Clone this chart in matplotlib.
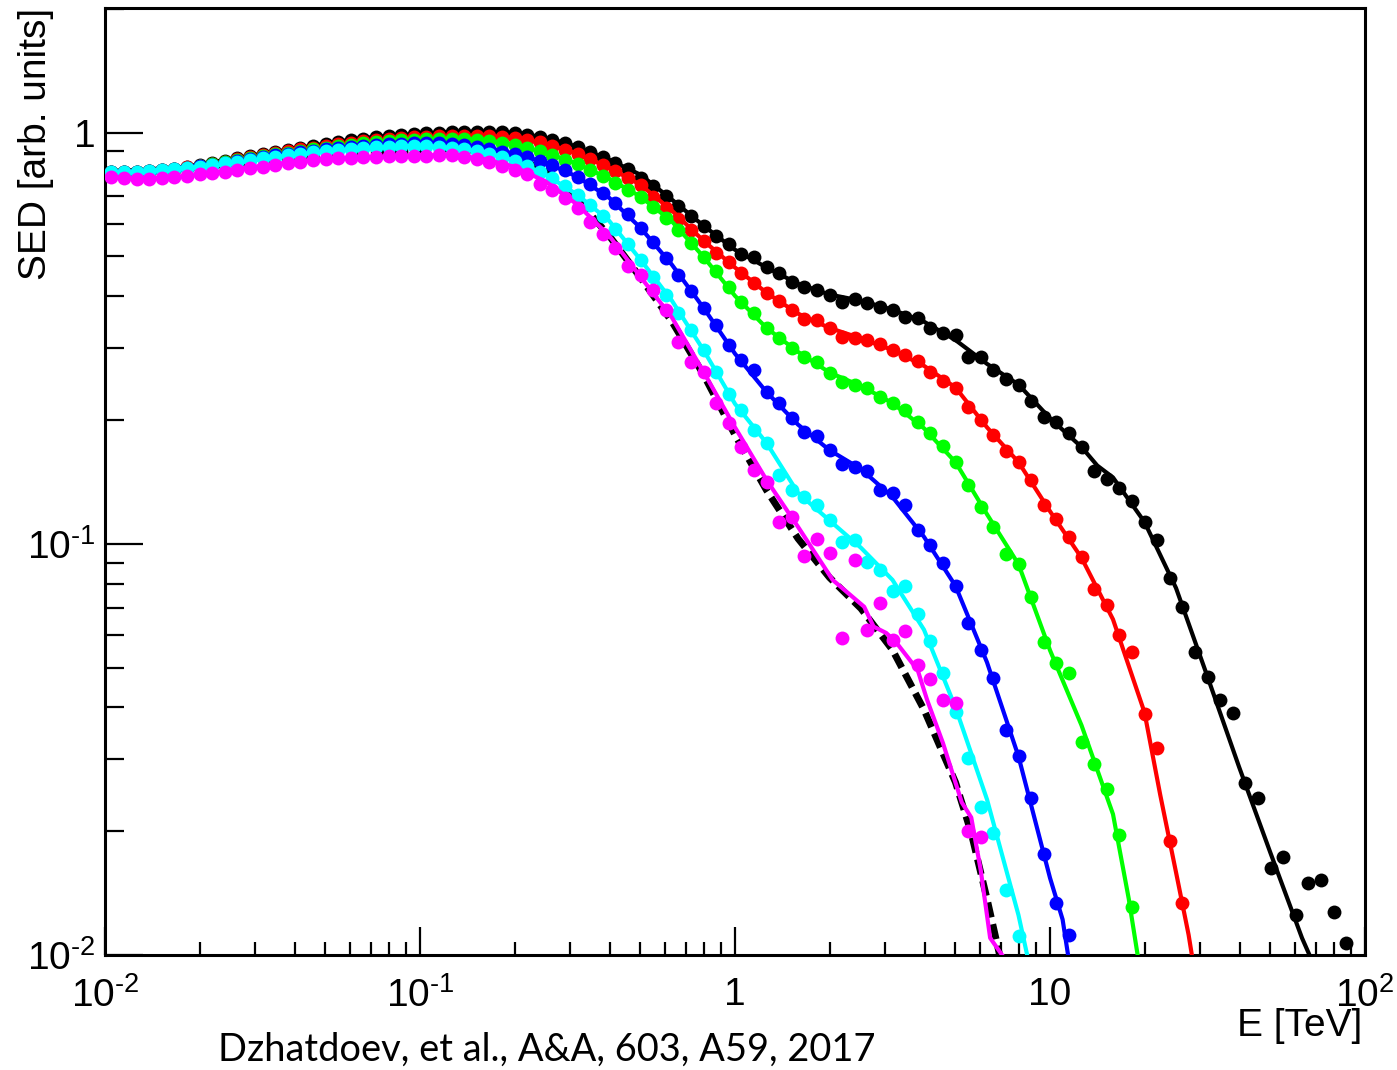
import numpy as np
import matplotlib
matplotlib.use("Agg")
import matplotlib.pyplot as plt
from matplotlib.ticker import NullFormatter, LogLocator

plt.rcParams["font.family"] = ["Liberation Sans", "DejaVu Sans"]
plt.rcParams["mathtext.fontset"] = "custom"
plt.rcParams["mathtext.rm"] = "Liberation Sans"
plt.rcParams["mathtext.it"] = "Liberation Sans:italic"
plt.rcParams["mathtext.bf"] = "Liberation Sans:bold"
plt.rcParams["lines.scale_dashes"] = False

# Monte Carlo energy bins: 25 per decade, bin centres in TeV
E_BINS = np.logspace(-1.98, 1.94, 99)

# Simulated SED points (arb. units), one value per energy bin
SED_BLACK = [0.803, 0.803, 0.803, 0.808, 0.813, 0.817, 0.826, 0.836, 0.845, 0.855,
             0.869, 0.879, 0.889, 0.899, 0.909, 0.919, 0.930, 0.940, 0.951, 0.961,
             0.967, 0.978, 0.983, 0.989, 0.994, 1.000, 1.000, 1.006, 1.006, 1.006,
             1.006, 1.006, 1.000, 0.989, 0.978, 0.961, 0.946, 0.924, 0.899, 0.874,
             0.845, 0.817, 0.777, 0.743, 0.703, 0.664, 0.628, 0.594, 0.561, 0.537,
             0.508, 0.499, 0.470, 0.456, 0.434, 0.422, 0.415, 0.404, 0.388, 0.393,
             0.386, 0.377, 0.371, 0.356, 0.354, 0.335, 0.326, 0.322, 0.285, 0.284,
             0.265, 0.251, 0.244, 0.222, 0.204, 0.198, 0.186, 0.172, 0.150, 0.144,
             0.137, 0.127, 0.113, 0.102, 0.0826, 0.0703, 0.0546, 0.0474, 0.0417, 0.0387,
             0.0262, 0.0241, 0.0163, 0.0173, 0.0125, 0.0150, 0.0152, 0.0127, 0.0107]

SED_RED = [0.803, 0.803, 0.803, 0.808, 0.813, 0.817, 0.826, 0.831, 0.840, 0.850,
           0.864, 0.874, 0.884, 0.894, 0.904, 0.914, 0.919, 0.930, 0.940, 0.946,
           0.956, 0.961, 0.967, 0.972, 0.978, 0.978, 0.983, 0.983, 0.983, 0.983,
           0.983, 0.978, 0.972, 0.961, 0.951, 0.930, 0.909, 0.889, 0.864, 0.836,
           0.808, 0.777, 0.747, 0.699, 0.657, 0.618, 0.581, 0.546, 0.511, 0.485,
           0.456, 0.432, 0.408, 0.390, 0.371, 0.353, 0.351, 0.335, 0.319, 0.317,
           0.314, 0.306, 0.296, 0.288, 0.279, 0.262, 0.249, 0.240, 0.215, 0.200,
           0.184, 0.168, 0.158, 0.143, 0.124, 0.115, 0.104, 0.0930, 0.0776, 0.0710,
           0.0601, 0.0546, 0.0385, 0.0318, 0.0189, 0.0134]

SED_GREEN = [0.803, 0.803, 0.803, 0.808, 0.813, 0.817, 0.822, 0.831, 0.840, 0.850,
             0.860, 0.869, 0.879, 0.889, 0.894, 0.904, 0.914, 0.919, 0.930, 0.935,
             0.946, 0.951, 0.956, 0.961, 0.961, 0.967, 0.967, 0.967, 0.967, 0.961,
             0.956, 0.946, 0.935, 0.919, 0.904, 0.884, 0.860, 0.840, 0.813, 0.786,
             0.756, 0.727, 0.699, 0.661, 0.621, 0.581, 0.540, 0.499, 0.461, 0.422,
             0.388, 0.365, 0.335, 0.317, 0.300, 0.285, 0.277, 0.261, 0.248, 0.244,
             0.240, 0.228, 0.220, 0.212, 0.198, 0.186, 0.173, 0.158, 0.139, 0.123,
             0.110, 0.0946, 0.0894, 0.0743, 0.0578, 0.0513, 0.0485, 0.0330, 0.0291, 0.0253,
             0.0196, 0.0131]

SED_BLUE = [0.803, 0.803, 0.803, 0.808, 0.813, 0.817, 0.822, 0.831, 0.836, 0.845,
            0.855, 0.864, 0.874, 0.884, 0.889, 0.899, 0.904, 0.914, 0.919, 0.924,
            0.930, 0.935, 0.940, 0.940, 0.946, 0.946, 0.946, 0.940, 0.935, 0.924,
            0.914, 0.899, 0.889, 0.874, 0.855, 0.836, 0.813, 0.781, 0.751, 0.714,
            0.676, 0.635, 0.587, 0.543, 0.496, 0.451, 0.412, 0.375, 0.341, 0.305,
            0.280, 0.265, 0.234, 0.220, 0.202, 0.187, 0.183, 0.169, 0.156, 0.154,
            0.150, 0.135, 0.133, 0.124, 0.108, 0.0994, 0.0898, 0.0790, 0.0642, 0.0551,
            0.0472, 0.0352, 0.0304, 0.0241, 0.0176, 0.0134, 0.0112]

SED_CYAN = [0.803, 0.803, 0.803, 0.808, 0.813, 0.817, 0.822, 0.826, 0.836, 0.845,
            0.850, 0.860, 0.869, 0.874, 0.884, 0.889, 0.899, 0.904, 0.909, 0.914,
            0.919, 0.924, 0.924, 0.930, 0.930, 0.930, 0.924, 0.919, 0.914, 0.904,
            0.889, 0.874, 0.855, 0.831, 0.803, 0.777, 0.743, 0.706, 0.668, 0.628,
            0.584, 0.537, 0.491, 0.446, 0.404, 0.365, 0.332, 0.296, 0.262, 0.232,
            0.212, 0.189, 0.176, 0.147, 0.135, 0.130, 0.124, 0.114, 0.101, 0.102,
            0.0903, 0.0862, 0.0768, 0.0790, 0.0675, 0.0581, 0.0485, 0.0390, 0.0301, 0.0229,
            0.0198, 0.0144, 0.0111]

SED_MAGENTA = [0.781, 0.777, 0.773, 0.773, 0.777, 0.781, 0.786, 0.795, 0.799, 0.803,
               0.813, 0.822, 0.826, 0.836, 0.845, 0.850, 0.860, 0.864, 0.869, 0.869,
               0.874, 0.874, 0.879, 0.879, 0.879, 0.879, 0.884, 0.884, 0.874, 0.864,
               0.850, 0.831, 0.813, 0.795, 0.751, 0.727, 0.695, 0.657, 0.607, 0.568,
               0.525, 0.475, 0.451, 0.415, 0.371, 0.310, 0.277, 0.262, 0.220, 0.197,
               0.172, 0.151, 0.141, 0.113, 0.116, 0.0936, 0.103, 0.0950, 0.0591, 0.0914,
               0.0618, 0.0718, 0.0584, 0.0615, 0.0508, 0.0469, 0.0416, 0.0410, 0.0200, 0.0194]

# Model curves: log10(E/TeV) knots and SED values
LOGE_BLACK = [-2.0, -1.9, -1.8, -1.7, -1.6, -1.5, -1.4, -1.3, -1.2, -1.1,
              -1.0, -0.9, -0.8, -0.7, -0.6, -0.5, -0.4, -0.3, -0.2, -0.1,
              0.0, 0.1, 0.2, 0.3, 0.4, 0.5, 0.6, 0.7, 0.8, 0.9,
              1.0, 1.1, 1.15, 1.2, 1.3, 1.4, 1.5, 1.6, 1.7, 1.8, 1.85]
LINE_BLACK = [0.803, 0.803, 0.817, 0.836, 0.864, 0.889, 0.914, 0.940, 0.967, 0.983,
              0.994, 1.006, 1.006, 1.000, 0.972, 0.924, 0.860, 0.790, 0.687, 0.594,
              0.519, 0.470, 0.429, 0.404, 0.390, 0.371, 0.347, 0.313, 0.274, 0.244,
              0.202, 0.172, 0.155, 0.145, 0.113, 0.0781, 0.0475, 0.0287, 0.0177, 0.0110, 0.0090]

LOGE_RED = [-2.0, -1.9, -1.8, -1.7, -1.6, -1.5, -1.4, -1.3, -1.2, -1.1,
            -1.0, -0.9, -0.8, -0.7, -0.6, -0.5, -0.4, -0.3, -0.2, -0.1,
            0.0, 0.1, 0.2, 0.3, 0.4, 0.5, 0.6, 0.7, 0.8, 0.9,
            1.0, 1.1, 1.2, 1.3, 1.35, 1.4, 1.44, 1.46]
LINE_RED = [0.803, 0.808, 0.817, 0.831, 0.855, 0.879, 0.899, 0.924, 0.946, 0.961,
            0.972, 0.983, 0.983, 0.972, 0.940, 0.889, 0.822, 0.747, 0.646, 0.546,
            0.470, 0.408, 0.363, 0.335, 0.316, 0.296, 0.271, 0.240, 0.192, 0.158,
            0.120, 0.0925, 0.0655, 0.0389, 0.0245, 0.0159, 0.0112, 0.0090]

LOGE_GREEN = [-2.0, -1.9, -1.8, -1.7, -1.6, -1.5, -1.4, -1.3, -1.2, -1.1,
              -1.0, -0.9, -0.8, -0.7, -0.6, -0.5, -0.4, -0.3, -0.2, -0.1,
              0.0, 0.1, 0.2, 0.3, 0.4, 0.5, 0.6, 0.7, 0.8, 0.9,
              1.0, 1.1, 1.2, 1.25, 1.28]
LINE_GREEN = [0.803, 0.803, 0.817, 0.831, 0.850, 0.874, 0.894, 0.914, 0.935, 0.951,
              0.961, 0.967, 0.961, 0.935, 0.894, 0.840, 0.773, 0.699, 0.608, 0.499,
              0.401, 0.335, 0.293, 0.261, 0.242, 0.220, 0.191, 0.158, 0.118, 0.0892,
              0.0551, 0.0362, 0.0220, 0.0137, 0.0098]

LOGE_BLUE = [-2.0, -1.9, -1.8, -1.7, -1.6, -1.5, -1.4, -1.3, -1.2, -1.1,
             -1.0, -0.9, -0.8, -0.7, -0.6, -0.5, -0.4, -0.3, -0.2, -0.1,
             0.0, 0.1, 0.2, 0.3, 0.4, 0.5, 0.6, 0.7, 0.8, 0.9,
             1.0, 1.04, 1.06]
LINE_BLUE = [0.803, 0.803, 0.817, 0.831, 0.845, 0.869, 0.889, 0.909, 0.924, 0.935,
             0.946, 0.940, 0.924, 0.889, 0.845, 0.781, 0.695, 0.587, 0.477, 0.375,
             0.290, 0.234, 0.195, 0.169, 0.152, 0.130, 0.104, 0.0790, 0.0515, 0.0304,
             0.0154, 0.0122, 0.0097]

LOGE_CYAN = [-2.0, -1.9, -1.8, -1.7, -1.6, -1.5, -1.4, -1.3, -1.2, -1.1,
             -1.0, -0.9, -0.8, -0.7, -0.6, -0.5, -0.4, -0.3, -0.2, -0.1,
             0.0, 0.1, 0.2, 0.3, 0.4, 0.5, 0.6, 0.7, 0.8, 0.9, 0.93]
LINE_CYAN = [0.803, 0.803, 0.817, 0.826, 0.840, 0.864, 0.884, 0.899, 0.914, 0.924,
             0.930, 0.919, 0.899, 0.855, 0.790, 0.706, 0.611, 0.491, 0.390, 0.296,
             0.219, 0.176, 0.133, 0.114, 0.0978, 0.0817, 0.0618, 0.0400, 0.0239, 0.0125, 0.0098]

LOGE_MAGENTA = [-2.0, -1.9, -1.8, -1.7, -1.6, -1.5, -1.4, -1.3, -1.2, -1.1,
                -1.0, -0.9, -0.8, -0.7, -0.6, -0.5, -0.4, -0.3, -0.2, -0.1,
                0.0, 0.1, 0.2, 0.31, 0.41, 0.44, 0.48, 0.51, 0.58, 0.61,
                0.66, 0.72, 0.75, 0.78, 0.81, 0.86]
LINE_MAGENTA = [0.781, 0.773, 0.777, 0.790, 0.813, 0.831, 0.850, 0.864, 0.869, 0.874,
                0.879, 0.884, 0.864, 0.826, 0.760, 0.668, 0.562, 0.446, 0.355, 0.262,
                0.192, 0.143, 0.110, 0.0817, 0.0703, 0.0629, 0.0607, 0.0578, 0.0493, 0.0417,
                0.0328, 0.0235, 0.0216, 0.0161, 0.0110, 0.0097]

# Primary (absorbed) spectrum, dashed
LOGE_PRIMARY = [-2.0, -1.8, -1.6, -1.4, -1.2, -1.0, -0.9, -0.8, -0.7, -0.6,
                -0.5, -0.4, -0.3, -0.2, -0.1, 0.0, 0.1, 0.2, 0.3, 0.4,
                0.5, 0.6, 0.7, 0.75, 0.8, 0.84, 0.85]
LINE_PRIMARY = [0.799, 0.813, 0.840, 0.869, 0.894, 0.909, 0.914, 0.904, 0.874, 0.804,
                0.687, 0.562, 0.444, 0.347, 0.258, 0.184, 0.135, 0.103, 0.0828, 0.0696,
                0.0552, 0.0395, 0.0263, 0.0198, 0.0137, 0.0100, 0.0093]

SERIES = [
    ("#000000", SED_BLACK, LOGE_BLACK, LINE_BLACK),
    ("#ff0000", SED_RED, LOGE_RED, LINE_RED),
    ("#00ff00", SED_GREEN, LOGE_GREEN, LINE_GREEN),
    ("#0000ff", SED_BLUE, LOGE_BLUE, LINE_BLUE),
    ("#00ffff", SED_CYAN, LOGE_CYAN, LINE_CYAN),
    ("#ff00ff", SED_MAGENTA, LOGE_MAGENTA, LINE_MAGENTA),
]

W, H = 1397, 1070
fig = plt.figure(figsize=(W / 100, H / 100), dpi=100)
ax = fig.add_axes([105 / W, 1 - 955 / H, 1260 / W, 947 / H])

ax.plot(10 ** np.array(LOGE_PRIMARY), LINE_PRIMARY, color="black", lw=5.0,
        dashes=(11, 5), zorder=2, dash_capstyle="butt")

z = 3
for color, pts, loge, curve in SERIES:
    ax.plot(10 ** np.array(loge), curve, color=color, lw=3.0, zorder=z)
    ax.plot(E_BINS[:len(pts)], pts, linestyle="none", marker="o", ms=10,
            mec="none", mfc=color, zorder=z + 1)
    z += 2

ax.set_xscale("log")
ax.set_yscale("log")
ax.set_xlim(0.01, 100)
ax.set_ylim(0.01, 2.01)

for side in ax.spines.values():
    side.set_linewidth(2.2)

ax.set_xticks([0.01, 0.1, 1, 10, 100])
ax.set_xticklabels(["10$^{\\text{-}2}$", "10$^{\\text{-}1}$", "1", "10", "10$^{2}$"])
ax.set_yticks([0.01, 0.1, 1])
ax.set_yticklabels(["10$^{\\text{-}2}$", "10$^{\\text{-}1}$", "1"])
ax.xaxis.set_minor_locator(LogLocator(base=10, subs=np.arange(2, 10)))
ax.yaxis.set_minor_locator(LogLocator(base=10, subs=np.arange(2, 10)))
ax.xaxis.set_minor_formatter(NullFormatter())
ax.yaxis.set_minor_formatter(NullFormatter())

ax.xaxis.set_tick_params(which="major", direction="in", length=20, width=1.6, pad=16, labelsize=28)
ax.xaxis.set_tick_params(which="minor", direction="in", length=9.7, width=1.6)
ax.yaxis.set_tick_params(which="major", direction="in", length=27, width=1.6, pad=7, labelsize=28)
ax.yaxis.set_tick_params(which="minor", direction="in", length=13.7, width=1.6)
ax.tick_params(which="both", top=False, right=False)

fig.text(36 / W, 1 - 8 / H, "SED [arb. units]", rotation=90, ha="center", va="top", fontsize=28)
fig.text(1362 / W, 1 - 1026 / H, "E [TeV]", ha="right", va="center", fontsize=28)
fig.text(218 / W, 1 - 1050 / H, "Dzhatdoev, et al., A&A, 603, A59, 2017",
         ha="left", va="center", fontsize=27.4, family=["Lato", "DejaVu Sans"])

fig.savefig("out.png", dpi=100)
